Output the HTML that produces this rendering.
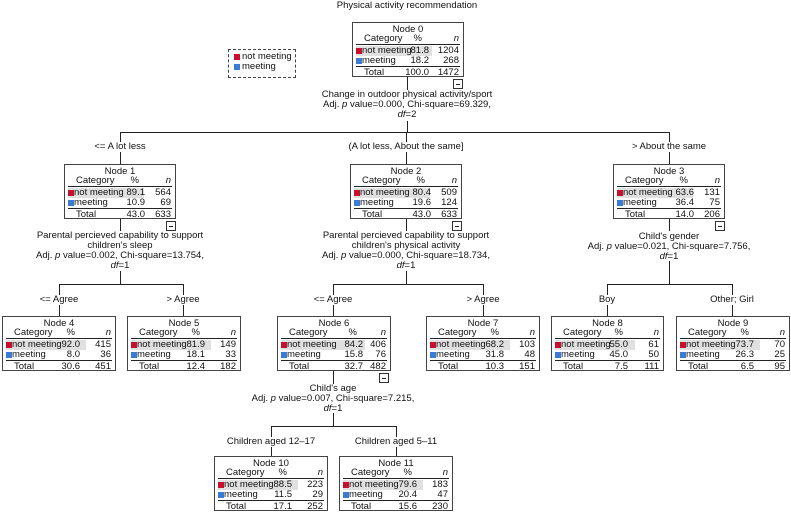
<!DOCTYPE html>
<html><head><meta charset="utf-8"><style>
body{margin:0;width:791px;height:518px;background:#fff;position:relative;overflow:hidden;font-family:"Liberation Sans","DejaVu Sans",sans-serif;font-size:9.5px;color:#111}
.a{position:absolute}
.n{position:absolute;border:1px solid #444;background:#fff;height:55px;box-sizing:border-box}
.n .t{position:absolute;left:0;right:0;top:1px;text-align:center}
.n .h{position:absolute;left:3px;right:3px;top:10px;height:11px;border-bottom:1px solid #222}
.n .g{position:absolute;left:3px;top:23px;height:10px;background:#e0e0e0}
.n .r1{position:absolute;left:3px;right:3px;top:22px;height:11px}
.n .r2{position:absolute;left:3px;right:3px;top:32px;height:11px;border-bottom:1px solid #222}
.n .r3{position:absolute;left:3px;right:3px;top:44px;height:11px}
.n span{position:absolute;top:0;line-height:11px;white-space:nowrap}
.sq{display:inline-block;width:6px;height:6px;position:absolute;left:0;top:3px}
.red{background:#c8102e}.blu{background:#3a7bd5}
.l{left:6px}.tl{left:8px}
.i{font-style:italic}
.hl{position:absolute;height:1px;background:#222}
.vl{position:absolute;width:1px;background:#222}
.c{position:absolute;text-align:center;white-space:nowrap;line-height:10px;transform:translateX(-50%)}
.m{position:absolute;width:10px;height:10px;border:1px solid #333;box-sizing:border-box;background:#fff}
.m:after{content:"";position:absolute;left:2px;right:2px;top:4px;height:1px;background:#222}
</style></head><body>

<div class="c" style="left:407px;top:1px">Physical activity recommendation</div>
<div class="a" style="left:228px;top:49px;width:68px;height:29px;border:1px dashed #444;line-height:10px;padding:2px 0 0 5px;box-sizing:border-box">
<div style="position:relative;padding-left:8px"><i class="sq red" style="top:2px"></i>not meeting</div>
<div style="position:relative;padding-left:8px"><i class="sq blu" style="top:2px"></i>meeting</div></div>

<!-- connectors -->
<div class="vl" style="left:407px;top:77px;height:13px"></div>
<div class="vl" style="left:407px;top:121px;height:11px"></div>
<div class="hl" style="left:120px;top:132px;width:550px"></div>
<div class="vl" style="left:120px;top:132px;height:32px"></div>
<div class="vl" style="left:406px;top:132px;height:32px"></div>
<div class="vl" style="left:669px;top:132px;height:32px"></div>
<div class="c" style="left:407px;top:90px">Change in outdoor physical activity/sport<br>Adj. <i>p</i> value=0.000, Chi-square=69.329,<br><i>df</i>=2</div>
<div class="c" style="left:120px;top:142px;background:#fff">&lt;= A lot less</div>
<div class="c" style="left:406px;top:142px;background:#fff">(A lot less, About the same]</div>
<div class="c" style="left:669px;top:142px;background:#fff">&gt; About the same</div>

<!-- node1 split -->
<div class="vl" style="left:120px;top:219px;height:12px"></div>
<div class="vl" style="left:120px;top:271px;height:13px"></div>
<div class="hl" style="left:59px;top:284px;width:125px"></div>
<div class="vl" style="left:59px;top:284px;height:32px"></div>
<div class="vl" style="left:183px;top:284px;height:32px"></div>
<div class="c" style="left:120px;top:231px">Parental percieved capability to support<br>children's sleep<br>Adj. <i>p</i> value=0.002, Chi-square=13.754,<br><i>df</i>=1</div>
<div class="c" style="left:59px;top:295px;background:#fff">&lt;= Agree</div>
<div class="c" style="left:183px;top:295px;background:#fff">&gt; Agree</div>

<!-- node2 split -->
<div class="vl" style="left:406px;top:219px;height:12px"></div>
<div class="vl" style="left:406px;top:271px;height:13px"></div>
<div class="hl" style="left:333px;top:284px;width:151px"></div>
<div class="vl" style="left:333px;top:284px;height:32px"></div>
<div class="vl" style="left:483px;top:284px;height:32px"></div>
<div class="c" style="left:406px;top:231px">Parental percieved capability to support<br>children's physical activity<br>Adj. <i>p</i> value=0.000, Chi-square=18.734,<br><i>df</i>=1</div>
<div class="c" style="left:333px;top:295px;background:#fff">&lt;= Agree</div>
<div class="c" style="left:483px;top:295px;background:#fff">&gt; Agree</div>

<!-- node3 split -->
<div class="vl" style="left:669px;top:219px;height:12px"></div>
<div class="vl" style="left:669px;top:261px;height:24px"></div>
<div class="hl" style="left:607px;top:284px;width:126px"></div>
<div class="vl" style="left:607px;top:284px;height:32px"></div>
<div class="vl" style="left:732px;top:284px;height:32px"></div>
<div class="c" style="left:669px;top:232px">Child's gender<br>Adj. <i>p</i> value=0.021, Chi-square=7.756,<br><i>df</i>=1</div>
<div class="c" style="left:607px;top:295px;background:#fff">Boy</div>
<div class="c" style="left:732px;top:295px;background:#fff">Other; Girl</div>

<!-- node6 split -->
<div class="vl" style="left:333px;top:370px;height:14px"></div>
<div class="vl" style="left:333px;top:413px;height:13px"></div>
<div class="hl" style="left:271px;top:426px;width:126px"></div>
<div class="vl" style="left:271px;top:426px;height:30px"></div>
<div class="vl" style="left:396px;top:426px;height:30px"></div>
<div class="c" style="left:333px;top:384px">Child's age<br>Adj. <i>p</i> value=0.007, Chi-square=7.215,<br><i>df</i>=1</div>
<div class="c" style="left:271px;top:437px;background:#fff">Children aged 12–17</div>
<div class="c" style="left:396px;top:437px;background:#fff">Children aged 5–11</div>

<!-- nodes -->
<div class="n" style="left:352px;top:22px;width:112px"><div class="t">Node 0</div><div class="g" style="width:76px"></div>
<div class="h"><span class="tl">Category</span><span style="right:38px">%</span><span class="i" style="right:1px">n</span></div>
<div class="r1"><i class="sq red"></i><span class="l">not meeting</span><span style="right:31px">81.8</span><span style="right:1px">1204</span></div>
<div class="r2"><i class="sq blu"></i><span class="l">meeting</span><span style="right:31px">18.2</span><span style="right:1px">268</span></div>
<div class="r3"><span class="tl">Total</span><span style="right:31px">100.0</span><span style="right:1px">1472</span></div></div>
<div class="m" style="left:453px;top:79px"></div>

<div class="n" style="left:64px;top:164px;width:112px"><div class="t">Node 1</div><div class="g" style="width:76px"></div>
<div class="h"><span class="tl">Category</span><span style="right:33px">%</span><span class="i" style="right:1px">n</span></div>
<div class="r1"><i class="sq red"></i><span class="l">not meeting</span><span style="right:27px">89.1</span><span style="right:1px">564</span></div>
<div class="r2"><i class="sq blu"></i><span class="l">meeting</span><span style="right:27px">10.9</span><span style="right:1px">69</span></div>
<div class="r3"><span class="tl">Total</span><span style="right:27px">43.0</span><span style="right:1px">633</span></div></div>
<div class="m" style="left:166px;top:221px"></div>

<div class="n" style="left:350px;top:164px;width:112px"><div class="t">Node 2</div><div class="g" style="width:76px"></div>
<div class="h"><span class="tl">Category</span><span style="right:33px">%</span><span class="i" style="right:1px">n</span></div>
<div class="r1"><i class="sq red"></i><span class="l">not meeting</span><span style="right:27px">80.4</span><span style="right:1px">509</span></div>
<div class="r2"><i class="sq blu"></i><span class="l">meeting</span><span style="right:27px">19.6</span><span style="right:1px">124</span></div>
<div class="r3"><span class="tl">Total</span><span style="right:27px">43.0</span><span style="right:1px">633</span></div></div>
<div class="m" style="left:452px;top:221px"></div>

<div class="n" style="left:613px;top:164px;width:112px"><div class="t">Node 3</div><div class="g" style="width:76px"></div>
<div class="h"><span class="tl">Category</span><span style="right:33px">%</span><span class="i" style="right:1px">n</span></div>
<div class="r1"><i class="sq red"></i><span class="l">not meeting</span><span style="right:27px">63.6</span><span style="right:1px">131</span></div>
<div class="r2"><i class="sq blu"></i><span class="l">meeting</span><span style="right:27px">36.4</span><span style="right:1px">75</span></div>
<div class="r3"><span class="tl">Total</span><span style="right:27px">14.0</span><span style="right:1px">206</span></div></div>
<div class="m" style="left:715px;top:221px"></div>

<div class="n" style="left:2px;top:316px;width:114px"><div class="t">Node 4</div><div class="g" style="width:80px"></div>
<div class="h"><span class="tl">Category</span><span style="right:37px">%</span><span class="i" style="right:1px">n</span></div>
<div class="r1"><i class="sq red"></i><span class="l">not meeting</span><span style="right:32px">92.0</span><span style="right:1px">415</span></div>
<div class="r2"><i class="sq blu"></i><span class="l">meeting</span><span style="right:32px">8.0</span><span style="right:1px">36</span></div>
<div class="r3"><span class="tl">Total</span><span style="right:32px">30.6</span><span style="right:1px">451</span></div></div>

<div class="n" style="left:127px;top:316px;width:114px"><div class="t">Node 5</div><div class="g" style="width:80px"></div>
<div class="h"><span class="tl">Category</span><span style="right:37px">%</span><span class="i" style="right:1px">n</span></div>
<div class="r1"><i class="sq red"></i><span class="l">not meeting</span><span style="right:32px">81.9</span><span style="right:1px">149</span></div>
<div class="r2"><i class="sq blu"></i><span class="l">meeting</span><span style="right:32px">18.1</span><span style="right:1px">33</span></div>
<div class="r3"><span class="tl">Total</span><span style="right:32px">12.4</span><span style="right:1px">182</span></div></div>

<div class="n" style="left:277px;top:316px;width:114px"><div class="t">Node 6</div><div class="g" style="width:84px"></div>
<div class="h"><span class="tl">Category</span><span style="right:30px">%</span><span class="i" style="right:1px">n</span></div>
<div class="r1"><i class="sq red"></i><span class="l">not meeting</span><span style="right:24px">84.2</span><span style="right:1px">406</span></div>
<div class="r2"><i class="sq blu"></i><span class="l">meeting</span><span style="right:24px">15.8</span><span style="right:1px">76</span></div>
<div class="r3"><span class="tl">Total</span><span style="right:24px">32.7</span><span style="right:1px">482</span></div></div>
<div class="m" style="left:379px;top:373px"></div>

<div class="n" style="left:426px;top:316px;width:114px"><div class="t">Node 7</div><div class="g" style="width:80px"></div>
<div class="h"><span class="tl">Category</span><span style="right:37px">%</span><span class="i" style="right:1px">n</span></div>
<div class="r1"><i class="sq red"></i><span class="l">not meeting</span><span style="right:32px">68.2</span><span style="right:1px">103</span></div>
<div class="r2"><i class="sq blu"></i><span class="l">meeting</span><span style="right:32px">31.8</span><span style="right:1px">48</span></div>
<div class="r3"><span class="tl">Total</span><span style="right:32px">10.3</span><span style="right:1px">151</span></div></div>

<div class="n" style="left:551px;top:316px;width:113px"><div class="t">Node 8</div><div class="g" style="width:80px"></div>
<div class="h"><span class="tl">Category</span><span style="right:37px">%</span><span class="i" style="right:1px">n</span></div>
<div class="r1"><i class="sq red"></i><span class="l">not meeting</span><span style="right:32px">55.0</span><span style="right:1px">61</span></div>
<div class="r2"><i class="sq blu"></i><span class="l">meeting</span><span style="right:32px">45.0</span><span style="right:1px">50</span></div>
<div class="r3"><span class="tl">Total</span><span style="right:32px">7.5</span><span style="right:1px">111</span></div></div>

<div class="n" style="left:676px;top:316px;width:114px"><div class="t">Node 9</div><div class="g" style="width:80px"></div>
<div class="h"><span class="tl">Category</span><span style="right:37px">%</span><span class="i" style="right:1px">n</span></div>
<div class="r1"><i class="sq red"></i><span class="l">not meeting</span><span style="right:32px">73.7</span><span style="right:1px">70</span></div>
<div class="r2"><i class="sq blu"></i><span class="l">meeting</span><span style="right:32px">26.3</span><span style="right:1px">25</span></div>
<div class="r3"><span class="tl">Total</span><span style="right:32px">6.5</span><span style="right:1px">95</span></div></div>

<div class="n" style="left:214px;top:456px;width:114px"><div class="t">Node 10</div><div class="g" style="width:80px"></div>
<div class="h"><span class="tl">Category</span><span style="right:37px">%</span><span class="i" style="right:1px">n</span></div>
<div class="r1"><i class="sq red"></i><span class="l">not meeting</span><span style="right:32px">88.5</span><span style="right:1px">223</span></div>
<div class="r2"><i class="sq blu"></i><span class="l">meeting</span><span style="right:32px">11.5</span><span style="right:1px">29</span></div>
<div class="r3"><span class="tl">Total</span><span style="right:32px">17.1</span><span style="right:1px">252</span></div></div>

<div class="n" style="left:339px;top:456px;width:114px"><div class="t">Node 11</div><div class="g" style="width:80px"></div>
<div class="h"><span class="tl">Category</span><span style="right:37px">%</span><span class="i" style="right:1px">n</span></div>
<div class="r1"><i class="sq red"></i><span class="l">not meeting</span><span style="right:32px">79.6</span><span style="right:1px">183</span></div>
<div class="r2"><i class="sq blu"></i><span class="l">meeting</span><span style="right:32px">20.4</span><span style="right:1px">47</span></div>
<div class="r3"><span class="tl">Total</span><span style="right:32px">15.6</span><span style="right:1px">230</span></div></div>

</body></html>
